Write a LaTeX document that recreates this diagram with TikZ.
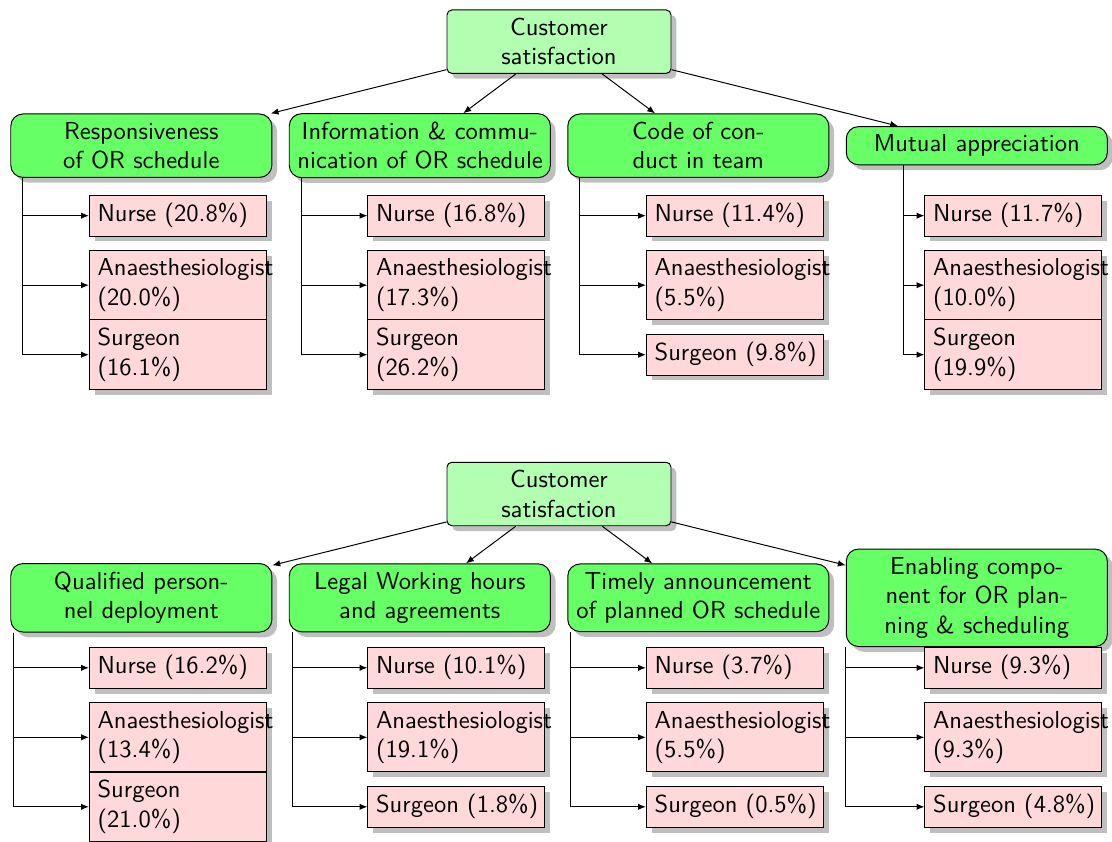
\documentclass[tikz,border=0pt]{standalone}
\usetikzlibrary{shadows,arrows.meta}
\begin{document}
\begin{tikzpicture}[x=0.407pt,y=-0.407pt,font=\sffamily,
  rootbox/.style={draw, fill=green!30, rounded corners=2pt, text width=84.5pt,
    align=center, drop shadow},
  catbox/.style={draw, fill=green!60, rounded corners=5pt, text width=99.6pt,
    align=center, drop shadow},
  rolebox/.style={draw, fill=red!15, text width=65.4pt, align=left,
    anchor=west, drop shadow},
  link/.style={-{Latex[length=3.2pt,width=2.6pt]}},
]
\useasboundingbox (0,0) rectangle (1112,842);

% ---------------- upper tree ----------------
\node[rootbox] (r1) at (559,41.7) {Customer\\satisfaction};

\node[catbox] (t1) at (141.3,145.7) {Responsiveness\\of OR schedule};
\node[catbox] (t2) at (419.8,145.7) {Information \& commu-\\\mbox{nication of OR schedule}};
\node[catbox] (t3) at (698.3,145.7) {Code of con-\\duct in team};
\node[catbox] (t4) at (976.8,145.7) {Mutual appreciation};

\node[rolebox] (t1n) at (88.9,215.7) {Nurse (20.8\%)};
\node[rolebox] (t1a) at (88.9,285.2) {Anaesthesiologist\\(20.0\%)};
\node[rolebox] (t1s) at (88.9,354.7) {Surgeon\\(16.1\%)};

\node[rolebox] (t2n) at (367.4,215.7) {Nurse (16.8\%)};
\node[rolebox] (t2a) at (367.4,285.2) {Anaesthesiologist\\(17.3\%)};
\node[rolebox] (t2s) at (367.4,354.7) {Surgeon\\(26.2\%)};

\node[rolebox] (t3n) at (645.9,215.7) {Nurse (11.4\%)};
\node[rolebox] (t3a) at (645.9,285.2) {Anaesthesiologist\\(5.5\%)};
\node[rolebox] (t3s) at (645.9,354.7) {\mbox{Surgeon (9.8\%)}};

\node[rolebox] (t4n) at (924.4,215.7) {Nurse (11.7\%)};
\node[rolebox] (t4a) at (924.4,285.2) {Anaesthesiologist\\(10.0\%)};
\node[rolebox] (t4s) at (924.4,354.7) {Surgeon\\(19.9\%)};

\foreach \c in {t1,t2,t3,t4} \draw[link] (r1) -- (\c);

\coordinate (t1l) at (22.7,0);
\coordinate (t2l) at (301,0);
\coordinate (t3l) at (579.4,0);
\coordinate (t4l) at (903.3,0);
\foreach \c in {t1,t2,t3,t4}
  \foreach \k in {n,a,s}
    \draw[link] (\c.south -| \c l) |- (\c\k.west);

% ---------------- lower tree ----------------
\node[rootbox] (r2) at (559,494) {Customer\\satisfaction};

\node[catbox] (b1) at (141.3,597.8) {Qualified person-\\nel deployment};
\node[catbox] (b2) at (419.8,597.8) {Legal Working hours\\and agreements};
\node[catbox] (b3) at (698.3,597.8) {Timely announcement\\\mbox{of planned OR schedule}};
\node[catbox] (b4) at (976.8,597.8) {Enabling compo-\\nent for OR plan-\\ning \& scheduling};

\node[rolebox] (b1n) at (88.9,667.8) {Nurse (16.2\%)};
\node[rolebox] (b1a) at (88.9,737.3) {Anaesthesiologist\\(13.4\%)};
\node[rolebox] (b1s) at (88.9,806.8) {Surgeon\\(21.0\%)};

\node[rolebox] (b2n) at (367.4,667.8) {Nurse (10.1\%)};
\node[rolebox] (b2a) at (367.4,737.3) {Anaesthesiologist\\(19.1\%)};
\node[rolebox] (b2s) at (367.4,806.8) {\mbox{Surgeon (1.8\%)}};

\node[rolebox] (b3n) at (645.9,667.8) {Nurse (3.7\%)};
\node[rolebox] (b3a) at (645.9,737.3) {Anaesthesiologist\\(5.5\%)};
\node[rolebox] (b3s) at (645.9,806.8) {\mbox{Surgeon (0.5\%)}};

\node[rolebox] (b4n) at (924.4,667.8) {Nurse (9.3\%)};
\node[rolebox] (b4a) at (924.4,737.3) {Anaesthesiologist\\(9.3\%)};
\node[rolebox] (b4s) at (924.4,806.8) {\mbox{Surgeon (4.8\%)}};

\foreach \c in {b1,b2,b3,b4} \draw[link] (r2) -- (\c);

\coordinate (b1l) at (13.3,0);
\coordinate (b2l) at (292,0);
\coordinate (b3l) at (570.6,0);
\coordinate (b4l) at (845.2,0);
\foreach \c in {b1,b2,b3,b4}
  \foreach \k in {n,a,s}
    \draw[link] (\c.south -| \c l) |- (\c\k.west);
\end{tikzpicture}
\end{document}
